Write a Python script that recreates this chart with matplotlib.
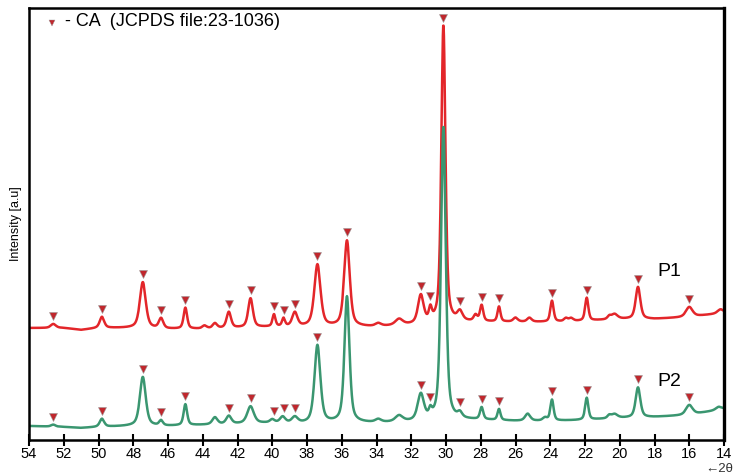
import numpy as np
import matplotlib
matplotlib.use("Agg")
import matplotlib.pyplot as plt

plt.rcParams['font.family'] = ['Liberation Sans', 'DejaVu Sans']

# ---- data -------------------------------------------------------------
# CA reference reflections (JCPDS 23-1036), degrees 2-theta
ca_positions = [52.6, 49.8, 47.45, 46.4, 45.0, 42.5, 41.25, 39.9, 39.35, 38.7,
                37.4, 35.7, 31.45, 30.9, 30.15, 29.2, 27.95, 26.95, 23.9,
                21.9, 18.95, 16.0]

# background levels (a.u.)
bg_2theta = [54, 52, 51, 50, 48, 46, 44, 42, 40, 38, 36, 34, 32, 29, 28, 26,
             24, 22, 20, 18, 16, 14]
bg_p1 = [112, 112, 110, 112, 112, 111, 111, 112, 113, 113, 113, 113, 115, 118,
         118, 118, 118, 119, 121, 121, 123, 127]
bg_p2 = [14, 13, 12, 13, 14, 14, 15, 16, 17, 16, 17, 17, 18, 20, 20, 19, 19,
         20, 22, 23, 25, 31]

# reflections: position, height, FWHM
p1_pos = [52.6, 49.8, 47.45, 46.4, 45.0, 43.9, 43.3, 42.5, 41.25, 39.9, 39.35,
          38.7, 37.4, 35.7, 33.9, 32.7, 31.45, 30.9, 30.15, 29.2, 28.3, 27.95,
          26.95, 26.0, 25.2, 23.9, 23.1, 22.8, 21.9, 20.6, 20.3, 18.95, 16.0,
          14.2]
p1_height = [4, 11, 46, 10, 21, 3, 5, 16, 29, 12, 8, 14, 62, 86, 3, 6, 28, 12,
             298, 9, 6, 16, 15, 4, 4, 21, 3, 3, 23, 3, 5, 32, 10, 4]
p1_fwhm = [0.35, 0.3, 0.4, 0.3, 0.24, 0.3, 0.3, 0.3, 0.32, 0.2, 0.2, 0.35,
           0.42, 0.38, 0.4, 0.5, 0.38, 0.2, 0.28, 0.35, 0.25, 0.22, 0.2, 0.3,
           0.3, 0.22, 0.25, 0.3, 0.22, 0.25, 0.4, 0.32, 0.45, 0.4]

p2_pos = [52.6, 49.8, 47.45, 46.4, 45.0, 43.3, 42.5, 41.25, 40.0, 39.4, 38.7,
          37.4, 35.7, 33.9, 32.7, 31.45, 30.9, 30.15, 29.2, 27.95, 26.95, 25.3,
          24.3, 23.9, 21.9, 20.6, 20.3, 18.95, 16.0, 14.3]
p2_height = [2, 8, 49, 5, 21, 7, 8, 17, 3, 6, 6, 78, 126, 3, 6, 26, 7, 294, 5,
             12, 11, 7, 3, 21, 22, 3, 4, 30, 10, 3]
p2_fwhm = [0.3, 0.3, 0.4, 0.25, 0.24, 0.35, 0.35, 0.45, 0.3, 0.35, 0.4, 0.4,
           0.34, 0.4, 0.5, 0.42, 0.2, 0.32, 0.3, 0.22, 0.2, 0.35, 0.3, 0.22,
           0.22, 0.25, 0.4, 0.32, 0.45, 0.4]

x_ticks = list(range(54, 13, -2))


def pattern(two_theta, bg, pos, height, fwhm, eta=0.55):
    y = np.interp(two_theta, bg_2theta[::-1], bg[::-1])
    for p, h, w in zip(pos, height, fwhm):
        d = (two_theta - p) / (w / 2)
        gauss = np.exp(-np.log(2) * d ** 2)
        lorentz = 1 / (1 + d ** 2)
        y = y + h * (eta * lorentz + (1 - eta) * gauss)
    return y


tt = np.arange(14.0, 54.001, 0.02)
y1 = pattern(tt, bg_p1, p1_pos, p1_height, p1_fwhm)
y2 = pattern(tt, bg_p2, p2_pos, p2_height, p2_fwhm)

# ---- figure -----------------------------------------------------------
fig = plt.figure(figsize=(7.35, 4.74), dpi=100)
ax = fig.add_axes([29 / 735, 1 - 440 / 474, 695 / 735, 432 / 474])

red = '#e3262a'
green = '#3a9670'
mark = '#c0272d'

ax.plot(tt, y1, color=red, lw=1.8)
ax.plot(tt, y2, color=green, lw=1.8)


def marker_height(tt, y, p):
    sel = np.abs(tt - p) <= 0.15
    return y[sel].max() + 8


m1 = [marker_height(tt, y1, p) for p in ca_positions]
ax.plot(ca_positions, m1, ls='none', marker='v', ms=5.5, color=mark,
        mec='#9a9a9a', mew=0.4, zorder=5)
p2_marks = [p for p in ca_positions if p not in (35.7, 30.15)]
m2 = [marker_height(tt, y2, p) for p in p2_marks]
ax.plot(p2_marks, m2, ls='none', marker='v', ms=5.5, color=mark,
        mec='#9a9a9a', mew=0.4, zorder=5)

ax.set_xlim(54, 14)
ax.set_ylim(0, 432)
ax.set_xticks(x_ticks)
ax.set_xticklabels([str(t) for t in x_ticks])
ax.set_yticks([])
ax.tick_params(axis='x', direction='inout', length=8, width=1.5,
               labelsize=10.5, pad=1)
for s in ax.spines.values():
    s.set_linewidth(1.8)
    s.set_color('black')
ax.spines['right'].set_linewidth(2.4)

ax.text(17.85, 168, 'P1', fontsize=14, va='center', ha='left')
ax.text(17.85, 58, 'P2', fontsize=14, va='center', ha='left')

# reference legend line
ax.plot([52.7], [417], ls='none', marker='v', ms=4.5, color=mark,
        mec='#9a9a9a', mew=0.3, clip_on=False)
ax.text(51.9, 419, '- CA  (JCPDS file:23-1036)', fontsize=13,
        va='center', ha='left')

fig.text(16 / 735, 1 - 224 / 474, 'Intensity [a.u]', rotation=90,
         fontsize=9, va='center', ha='center',
         family=['Liberation Sans Narrow', 'Liberation Sans', 'DejaVu Sans'])
fig.text(733 / 735, 1 - 469 / 474, '\u21902\u03b8', fontsize=9.5,
         ha='right', va='center', color='#333333')

fig.savefig('out.png', dpi=100)
